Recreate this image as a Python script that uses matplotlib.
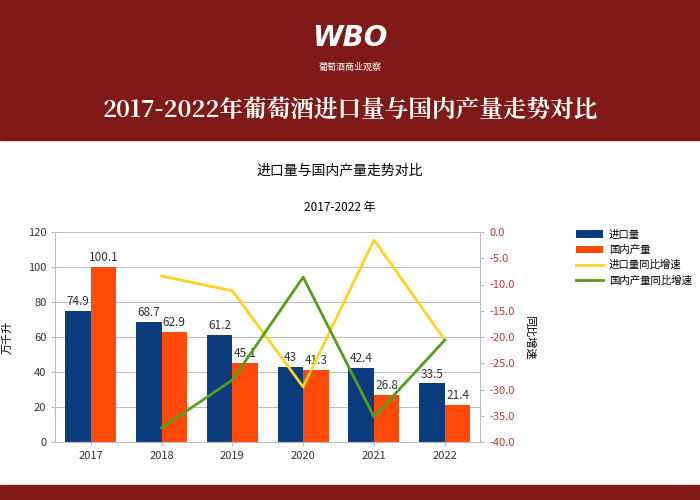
import matplotlib

matplotlib.use("Agg")
import matplotlib.pyplot as plt
import numpy as np

plt.rcParams["font.family"] = ["Noto Sans CJK JP", "DejaVu Sans"]

years = ["2017", "2018", "2019", "2020", "2021", "2022"]
imports = [74.9, 68.7, 61.2, 43, 42.4, 33.5]
domestic = [100.1, 62.9, 45.1, 41.3, 26.8, 21.4]
import_growth = [-8.4, -11.2, -29.5, -1.5, -20.6]      # 2018-2022
domestic_growth = [-37.3, -28.2, -8.6, -35.2, -20.6]  # 2018-2022

RED = "#7f1a16"
fig = plt.figure(figsize=(7, 5), dpi=100)
fig.patch.set_facecolor("white")

# header and footer bands
fig.patches.append(plt.Rectangle((0, 0.72), 1, 0.28, transform=fig.transFigure,
                                 color=RED, zorder=0))
fig.patches.append(plt.Rectangle((0, 0), 1, 0.03, transform=fig.transFigure,
                                 color=RED, zorder=0))
fig.text(0.5, 0.925, "WBO", color="white", fontsize=20, fontweight="bold",
         fontstyle="italic", ha="center", va="center", family="DejaVu Sans")
fig.text(0.5, 0.865, "葡萄酒商业观察", color="white", fontsize=6.5, ha="center", va="center")
fig.text(0.5, 0.78, "2017-2022年葡萄酒进口量与国内产量走势对比", color="white",
         fontsize=17, fontweight="bold", ha="center", va="center",
         family="Noto Serif CJK JP")

fig.text(0.485, 0.66, "进口量与国内产量走势对比", fontsize=10, ha="center", va="center")
fig.text(0.485, 0.586, "2017-2022 年", fontsize=8.5, ha="center", va="center")

ax = fig.add_axes([0.079, 0.116, 0.607, 0.42])
x = np.arange(len(years))
w = 0.36
b1 = ax.bar(x - w / 2, imports, w, color="#0b3d7e", label="进口量", zorder=2)
b2 = ax.bar(x + w / 2, domestic, w, color="#ff4a0a", label="国内产量", zorder=2)
for bars, vals in ((b1, imports), (b2, domestic)):
    for r, v in zip(bars, vals):
        ax.text(r.get_x() + r.get_width() / 2, v + 1.5, f"{v:g}", ha="center",
                va="bottom", fontsize=8.5, color="#333333")
ax.set_ylim(0, 120)
ax.set_yticks(range(0, 121, 20))
ax.set_xlim(-0.5, 5.5)
ax.set_xticks(x)
ax.set_xticklabels(years)
ax.tick_params(labelsize=8, colors="#333333", length=3)
ax.tick_params(color="#bbbbbb")
ax.grid(axis="y", color="#bbbbbb", linewidth=0.7, zorder=0)
for s in ("top", "right"):
    ax.spines[s].set_visible(False)
for s in ("left", "bottom"):
    ax.spines[s].set_color("#bbbbbb")
ax.set_ylabel("万千升", fontsize=8)
ax.yaxis.set_label_coords(-0.1, 0.5)

ax2 = ax.twinx()
gx = x[1:]
l1, = ax2.plot(gx, import_growth, color="#ffd320", linewidth=2, label="进口量同比增速")
l2, = ax2.plot(gx, domestic_growth, color="#579d1c", linewidth=2, label="国内产量同比增速")
ax2.set_ylim(-40, 0)
ticks = np.arange(-40, 0.1, 5)
ax2.set_yticks(ticks)
ax2.set_yticklabels([f"{v:.1f}" for v in ticks])
ax2.tick_params(axis="y", labelsize=8, labelcolor="#c0392b", color="#bbbbbb", length=3)
for s in ("top", "left", "bottom"):
    ax2.spines[s].set_visible(False)
ax2.spines["right"].set_color("#bbbbbb")
ax2.set_ylabel("同比增速", fontsize=8, rotation=270, labelpad=14)

fig.legend(handles=[b1, b2, l1, l2], loc="upper left", bbox_to_anchor=(0.81, 0.56),
           frameon=False, fontsize=7.5, handlelength=2.6, handletextpad=0.5,
           labelspacing=0.5)

fig.savefig("out.png", dpi=100)
